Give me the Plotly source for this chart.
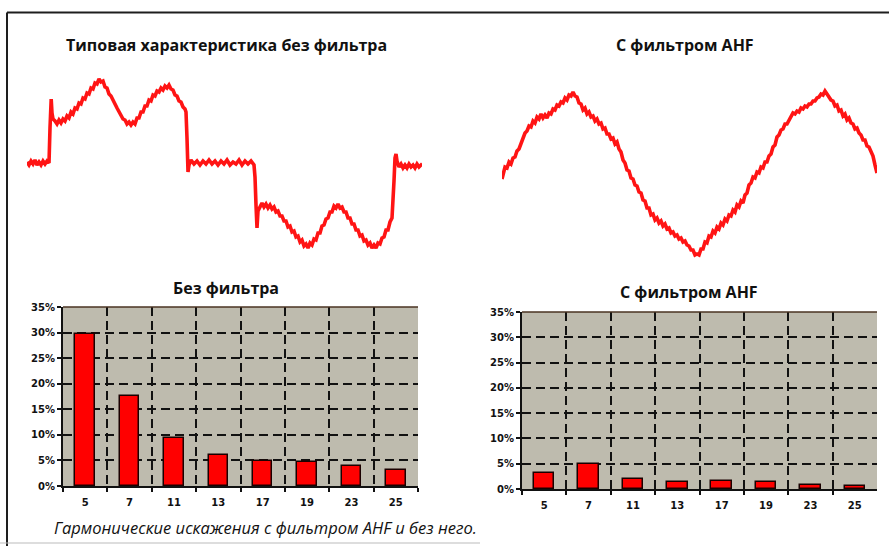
import plotly.graph_objects as go

W, H = 889, 546

# ---------------- data ----------------
# Waveform without filter (time in arbitrary units, current in arbitrary units)
t_raw = [0, 2, 4, 6, 8, 10, 12, 14, 16, 18, 20, 22,
         23, 23.6, 24.2, 25, 26,
         28, 30, 32, 34, 36, 38, 40, 42, 44, 46, 48, 50, 52, 54, 56, 58, 60, 62, 64, 66, 68, 70, 72, 74, 76,
         78, 80, 82, 84, 86, 88, 90, 92, 94, 96, 98, 100, 102, 104, 106, 108,
         110, 112, 114, 116, 118, 120, 122, 124, 126, 128, 130, 132, 134, 136, 138, 140, 142, 144,
         146, 148, 150, 152, 154, 156, 158, 159,
         160, 161, 162,
         164, 167, 170, 173, 176, 179, 182, 185, 188, 191, 194, 197, 200, 203, 206, 209, 212, 215, 218,
         221, 224, 227,
         228, 229, 230, 231,
         233, 235, 237, 239, 241, 243, 245, 247, 249, 251, 253, 255, 257, 259, 261, 263, 265, 267, 269,
         271, 273, 275, 277, 279, 281, 283, 285, 287, 289, 291, 293, 295, 297, 299, 301, 303, 305, 307,
         309, 311, 313, 315, 317, 319, 321, 323, 325, 327, 329, 331, 333, 335, 337, 339, 341, 343, 345,
         347, 349, 351, 353, 355, 357, 359, 361, 363, 365, 366, 367, 368, 369, 370,
         372, 374, 376, 378, 380, 382, 384, 386, 388, 390, 392, 394, 395]
i_raw = [1, -2, 2, -1, 3, -2, 1, -2, 2, -1, 2, 0,
         35, 58, 64, 50, 44,
         42, 39, 43, 40, 44, 42, 47, 45, 51, 49, 55, 54, 60, 59, 65, 64, 70, 69, 75, 74, 80, 79, 84, 81, 82,
         76, 75, 69, 67, 62, 59, 55, 51, 48, 44, 43, 39, 41, 38, 41, 39,
         45, 45, 51, 51, 57, 57, 63, 62, 68, 67, 72, 71, 75, 73, 77, 75, 78, 74,
         73, 68, 67, 62, 61, 56, 54, 51,
         25, -9, -2,
         3, -1, 2, -2, 2, -1, 3, -1, 2, -2, 2, -1, 3, -2, 1, -1, 3, -2, 2,
         -1, 2, -2,
         -14, -42, -65, -48,
         -43, -40, -44, -41, -45, -42, -46, -44, -49, -48, -53, -53, -58, -58, -64, -63, -69, -68, -74,
         -73, -79, -77, -83, -81, -85, -80, -82, -76, -77, -70, -70, -63, -62, -56, -55, -49, -49, -43,
         -45, -41, -45, -44, -49, -49, -55, -55, -61, -61, -67, -67, -73, -72, -78, -77, -82, -80, -85,
         -82, -85, -80, -81, -75, -74, -67, -67, -59, -55, -42, -18, 5, 9, 2,
         -4, -1, -5, -2, -5, -1, -4, -2, -5, -1, -4, -2, -3]

# Waveform with AHF filter
t_ahf = [0, 2, 3, 5, 7, 9, 11, 13, 15, 17, 19, 21, 23, 25, 27, 29, 31, 33, 35, 37, 39, 41, 43, 45, 47,
         49, 51, 53, 55, 57, 59, 61, 63, 65, 67, 69, 71, 73, 75, 77, 79, 81, 83, 85, 87, 89, 91, 93, 95,
         97, 99, 101, 103, 105, 107, 109, 111, 113, 115, 117, 119, 121, 123, 125, 127, 129, 131, 133,
         135, 137, 139, 141, 143, 145, 147, 149, 151, 153, 155, 157, 159, 161, 163, 165, 167, 169, 171,
         173, 175, 177, 179, 181, 183, 185, 187, 189, 191, 193, 195, 197, 199, 201, 203, 205, 207, 209,
         211, 213, 215, 217, 219, 221, 223, 225, 227, 229, 231, 233, 235, 237, 239, 241, 243, 245, 247,
         249, 251, 253, 255, 257, 259, 261, 263, 265, 267, 269, 271, 273, 275, 277, 279, 281, 283, 285,
         287, 289, 291, 293, 295, 297, 299, 301, 303, 305, 307, 309, 311, 313, 315, 317, 319, 321, 323,
         325, 327, 329, 331, 333, 335, 337, 339, 341, 343, 345, 347, 349, 351, 353, 355, 357, 359, 361,
         363, 365, 367, 369, 371, 373, 375]
i_ahf = [-6, 2, 6, 5, 11, 9, 15, 16, 22, 24, 30, 34, 40, 42, 47, 46, 52, 50, 56, 54, 59, 55, 58, 55, 60,
         59, 64, 63, 68, 67, 71, 70, 75, 73, 78, 77, 81, 77, 76, 70, 69, 63, 65, 59, 61, 56, 57, 52, 54,
         49, 50, 44, 45, 39, 39, 34, 35, 29, 31, 24, 21, 13, 10, 3, 2, -5, -6, -12,
         -13, -19, -20, -27, -28, -35, -35, -42, -41, -47, -45, -50, -48, -53, -51, -56, -55, -60, -59,
         -63, -62, -66, -65, -69, -68, -72, -73, -77, -77, -82, -81, -82, -76, -76, -69, -70, -63, -64,
         -58, -60, -54, -56, -50, -52, -46, -48, -42, -43, -37, -39, -32, -34, -28, -30, -22, -20, -12,
         -10, -4, -5, 1, 0, 6, 5, 11, 11, 17, 19, 26, 28, 36, 38, 43, 44, 49, 49,
         53, 55, 60, 59, 62, 61, 65, 64, 67, 66, 69, 69, 72, 72, 75, 76, 79, 78, 82,
         79, 76, 73, 72, 67, 68, 62, 63, 57, 59, 53, 55, 50, 49, 44, 45, 40, 38, 33,
         33, 27, 26, 21, 17, 8, 0]

# Harmonic spectra (% of fundamental)
harmonics = ["5", "7", "11", "13", "17", "19", "23", "25"]
thd_no_filter = [29.7, 17.6, 9.3, 6.0, 4.9, 4.6, 3.9, 3.1]
thd_with_ahf = [3.1, 4.9, 2.0, 1.3, 1.6, 1.3, 0.8, 0.65]
pct_ticks = [0, 5, 10, 15, 20, 25, 30, 35]
pct_labels = ["0%", "5%", "10%", "15%", "20%", "25%", "30%", "35%"]

title_wave_left = "Типовая характеристика без фильтра"
title_wave_right = "С фильтром AHF"
title_bar_left = "Без фильтра"
title_bar_right = "С фильтром AHF"
caption = "Гармонические искажения с фильтром AHF и без него."

# ---------------- helpers ----------------
def px_x(px):
    return px / W

def px_y(py):
    return 1 - py / H

RED = "#ff1414"
GRID_BG = "#bebbae"
INK = "#111111"

fig = go.Figure()

fig.add_trace(go.Scatter(x=t_raw, y=i_raw, mode="lines", line=dict(color=RED, width=3.6),
                         xaxis="x", yaxis="y", showlegend=False, hoverinfo="skip"))
fig.add_trace(go.Scatter(x=t_ahf, y=i_ahf, mode="lines", line=dict(color=RED, width=3.6),
                         xaxis="x2", yaxis="y2", showlegend=False, hoverinfo="skip"))
fig.add_trace(go.Bar(x=harmonics, y=thd_no_filter, width=0.44,
                     marker=dict(color="#ff0000", line=dict(color="#1a0000", width=1.5)),
                     xaxis="x3", yaxis="y3", showlegend=False))
fig.add_trace(go.Bar(x=harmonics, y=thd_with_ahf, width=0.46,
                     marker=dict(color="#ff0000", line=dict(color="#1a0000", width=1.5)),
                     xaxis="x4", yaxis="y4", showlegend=False))

hidden = dict(visible=False, fixedrange=True)

tickfont = dict(family="DejaVu Sans, Arial", size=10, color=INK, weight="bold")

def bar_x(domain):
    return dict(domain=domain, type="category", range=[-0.5, 7.5], tickson="boundaries",
                showgrid=True, gridcolor=INK, griddash="9px,5px", gridwidth=2,
                showline=True, linecolor=INK, linewidth=2,
                ticks="outside", ticklen=4, tickwidth=2, tickcolor=INK,
                tickfont=tickfont, ticklabelstandoff=6, zeroline=False, fixedrange=True)

def bar_y(domain):
    return dict(domain=domain, range=[0, 35], tickmode="array", tickvals=pct_ticks, ticktext=pct_labels,
                showgrid=True, gridcolor=INK, griddash="9px,5px", gridwidth=2,
                showline=True, linecolor=INK, linewidth=2,
                ticks="outside", ticklen=4, tickwidth=2, tickcolor=INK,
                tickfont=tickfont, zeroline=False, fixedrange=True)

fig.update_layout(
    width=W, height=H,
    margin=dict(l=0, r=0, t=0, b=0, autoexpand=False),
    paper_bgcolor="white",
    plot_bgcolor="rgba(0,0,0,0)",
    bargap=0,
    xaxis=dict(domain=[px_x(27), px_x(422)], range=[0, 395], anchor="y", **hidden),
    yaxis=dict(domain=[px_y(260), px_y(60)], range=[-97, 103], anchor="x", **hidden),
    xaxis2=dict(domain=[px_x(502), px_x(877)], range=[0, 375], anchor="y2", **hidden),
    yaxis2=dict(domain=[px_y(280), px_y(60)], range=[-107, 113], anchor="x2", **hidden),
    xaxis3=dict(anchor="y3", **bar_x([px_x(63), px_x(418)])),
    yaxis3=dict(anchor="x3", **bar_y([px_y(486), px_y(307)])),
    xaxis4=dict(anchor="y4", **bar_x([px_x(522), px_x(877)])),
    yaxis4=dict(anchor="x4", **bar_y([px_y(489), px_y(312)])),
)

shapes = []
for xr, yr in (("x3", "y3"), ("x4", "y4")):
    shapes.append(dict(type="rect", xref=f"{xr} domain", yref=f"{yr} domain", x0=0, x1=1, y0=0, y1=1,
                       fillcolor=GRID_BG, line=dict(width=0), layer="below"))
    shapes.append(dict(type="line", xref=f"{xr} domain", yref=f"{yr} domain", x0=0, x1=1, y0=1, y1=1,
                       line=dict(color="#4a3322", width=1.5)))
# page frame
shapes.append(dict(type="line", xref="paper", yref="paper", x0=px_x(7), x1=1, y0=px_y(12.5), y1=px_y(12.5),
                   line=dict(color="#1e1e1e", width=2)))
shapes.append(dict(type="line", xref="paper", yref="paper", x0=px_x(7), x1=px_x(7), y0=px_y(12.5), y1=0,
                   line=dict(color="#1e1e1e", width=2)))
shapes.append(dict(type="line", xref="paper", yref="paper", x0=0, x1=px_x(480), y0=px_y(543), y1=px_y(543),
                   line=dict(color="#bbbbbb", width=1)))
fig.update_layout(shapes=shapes)

title_font = dict(family="Open Sans, Noto Sans, Arial", size=16, color=INK, weight="bold")
annotations = [
    dict(text=title_wave_left, x=px_x(226), y=px_y(45), xref="paper", yref="paper",
         showarrow=False, font=title_font, xanchor="center", yanchor="middle"),
    dict(text=title_wave_right, x=px_x(685), y=px_y(45), xref="paper", yref="paper",
         showarrow=False, font=title_font, xanchor="center", yanchor="middle"),
    dict(text=title_bar_left, x=px_x(226), y=px_y(288), xref="paper", yref="paper",
         showarrow=False, font=title_font, xanchor="center", yanchor="middle"),
    dict(text=title_bar_right, x=px_x(689), y=px_y(292), xref="paper", yref="paper",
         showarrow=False, font=title_font, xanchor="center", yanchor="middle"),
    dict(text=f"<i>{caption}</i>", x=px_x(52), y=px_y(527), xref="paper", yref="paper",
         showarrow=False, font=dict(family="Open Sans, Noto Sans, Arial", size=16.5, color=INK),
         xanchor="left", yanchor="middle"),
]
fig.update_layout(annotations=annotations)

fig.write_html("out.html", config={"displayModeBar": False},
               post_script="document.body.style.margin='0';document.body.style.overflow='hidden';")
